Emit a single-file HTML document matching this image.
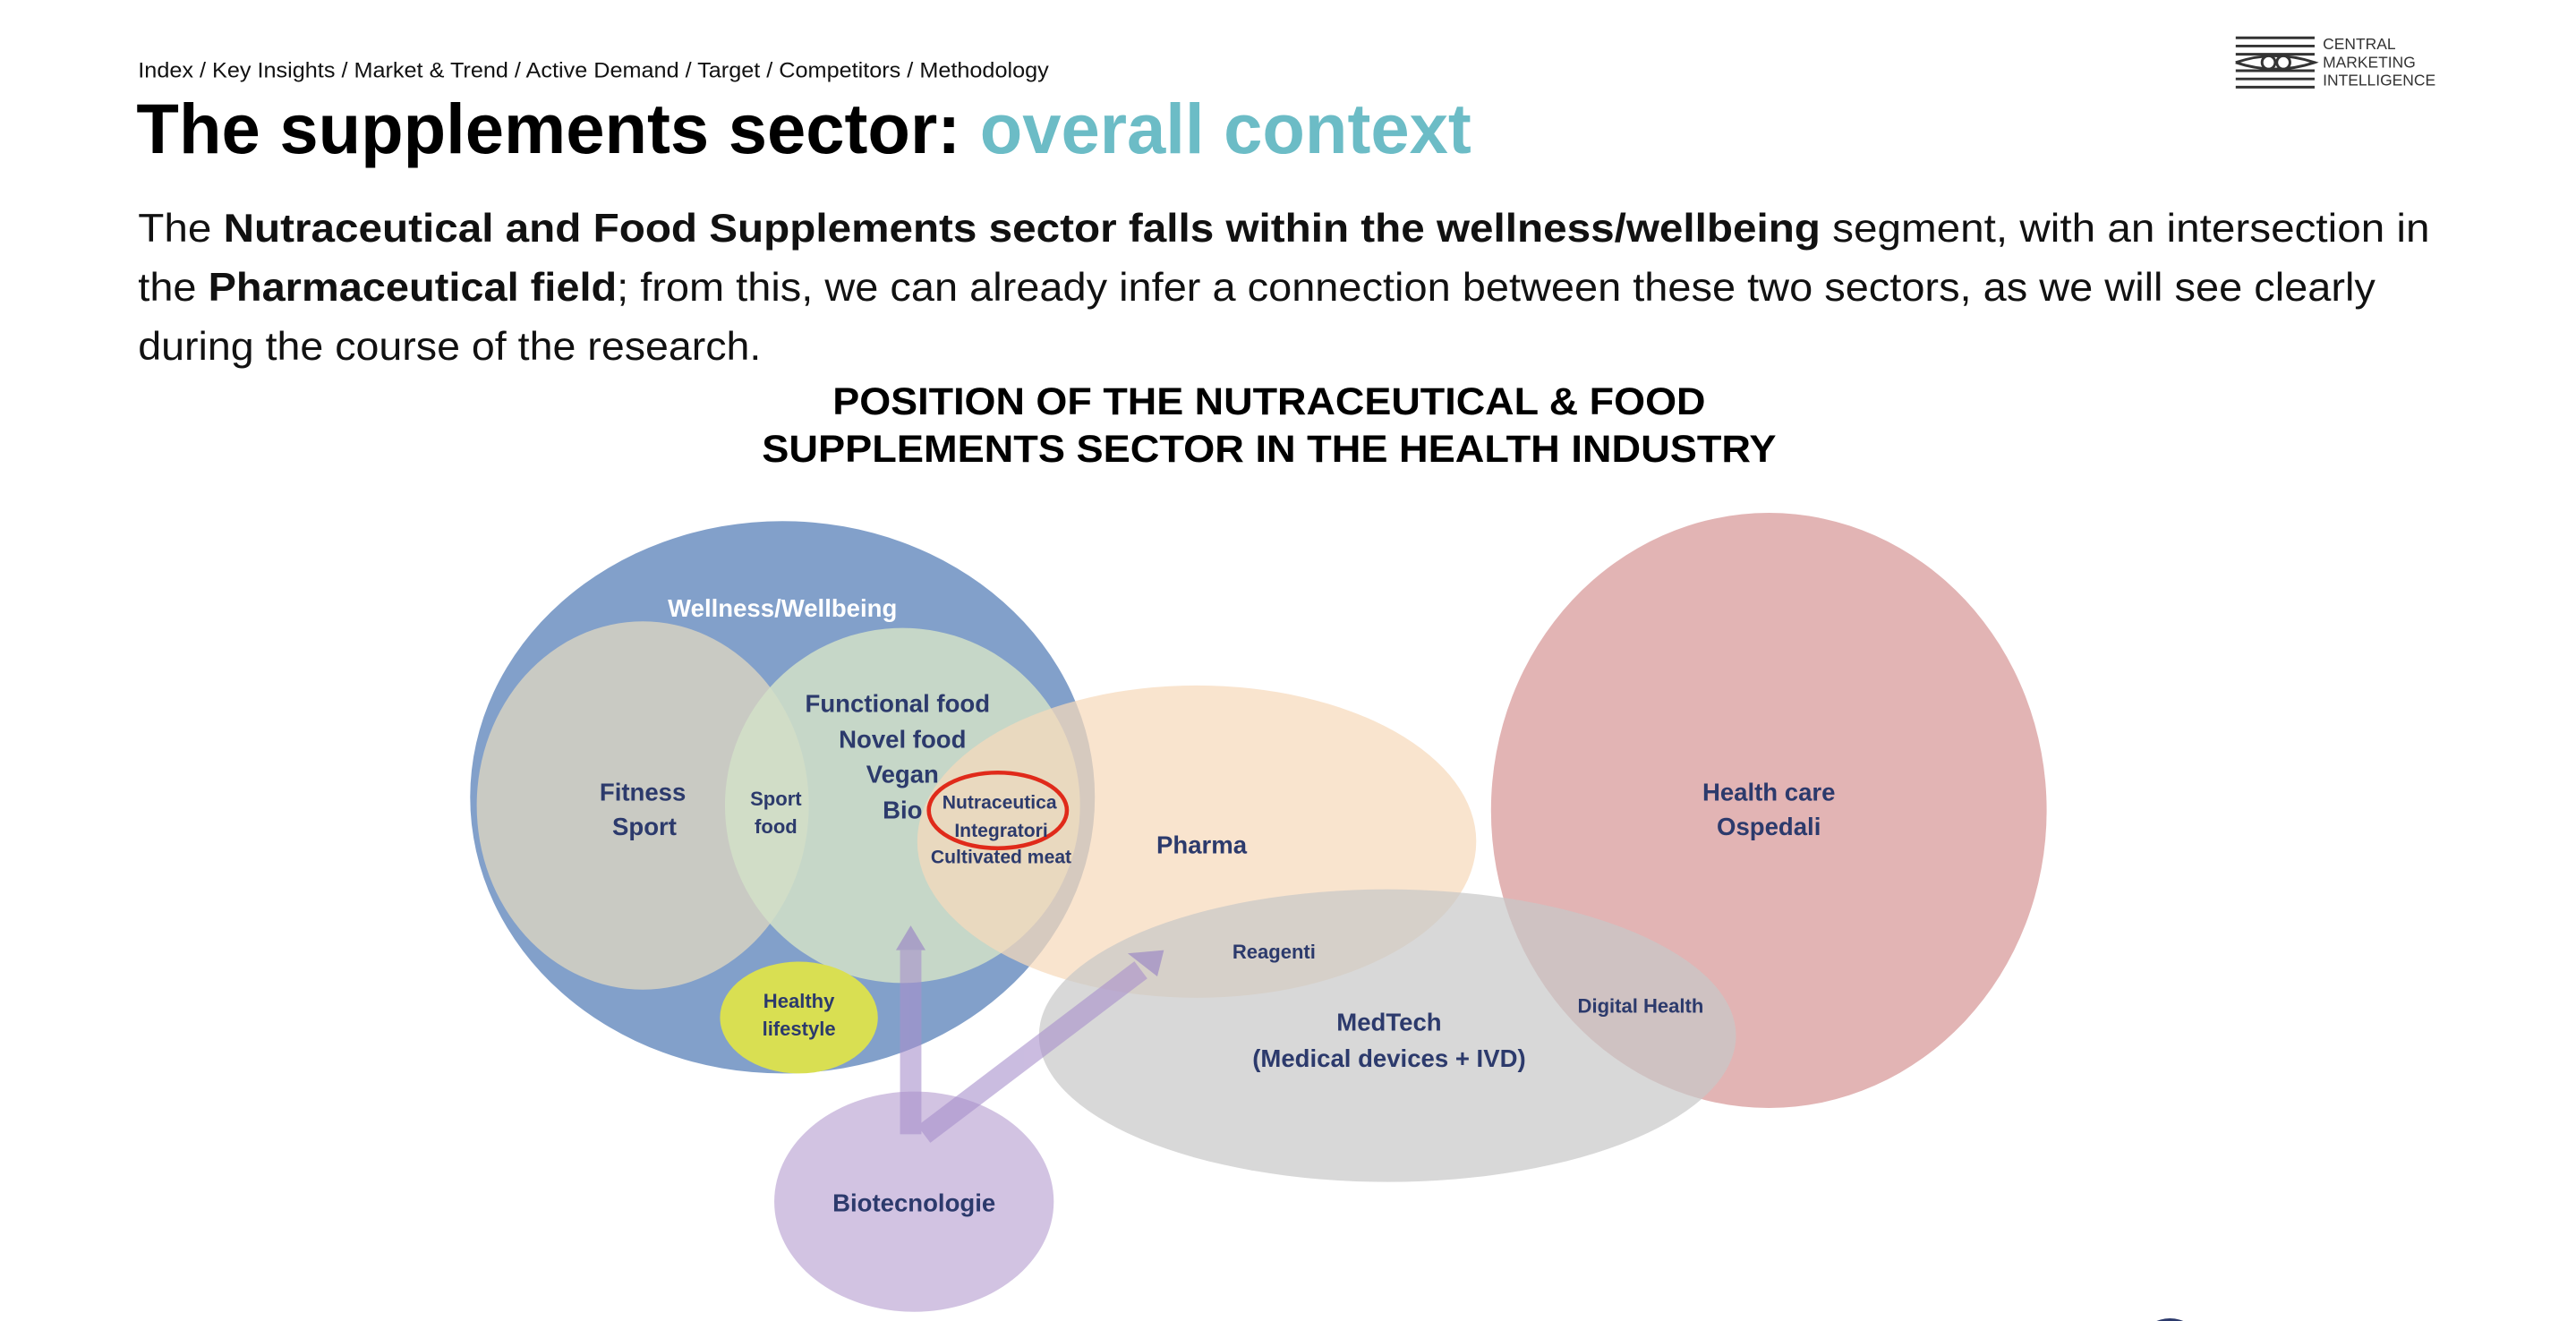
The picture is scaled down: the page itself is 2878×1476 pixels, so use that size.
<!DOCTYPE html>
<html><head><meta charset="utf-8"><style>html,body{margin:0;padding:0;background:#fff}svg{display:block}</style></head>
<body>
<svg width="2878" height="1476" viewBox="0 0 1567 803.6" preserveAspectRatio="none" xmlns="http://www.w3.org/2000/svg" font-family="Liberation Sans, sans-serif">
<rect width="1600" height="820" fill="#fff"/>
<text x="84" y="47" font-size="13" fill="#111" textLength="554" lengthAdjust="spacingAndGlyphs">Index / Key Insights /  Market &amp; Trend / Active Demand / Target / Competitors / Methodology</text>
<!-- logo -->
<g stroke="#333" stroke-width="1.6">
<line x1="1360" y1="23" x2="1408" y2="23"/><line x1="1360" y1="28" x2="1408" y2="28"/><line x1="1360" y1="33" x2="1408" y2="33"/>
<line x1="1360" y1="43" x2="1408" y2="43"/><line x1="1360" y1="48" x2="1408" y2="48"/><line x1="1360" y1="53" x2="1408" y2="53"/>
<path d="M1360 38 Q1384 30 1408 38 Q1384 46 1360 38" fill="none"/>
<circle cx="1380" cy="38" r="4" fill="#fff"/><circle cx="1389" cy="38" r="4" fill="#fff"/>
</g>
<g font-size="9.5" fill="#333"><text x="1413" y="30">CENTRAL</text><text x="1413" y="41">MARKETING</text><text x="1413" y="52">INTELLIGENCE</text></g>
<text x="83" y="93" font-size="43" font-weight="bold" textLength="812" lengthAdjust="spacingAndGlyphs"><tspan fill="#000">The supplements sector: </tspan><tspan fill="#6cbcc6">overall context</tspan></text>
<g font-size="24" fill="#111">
<text x="84" y="147" textLength="1394" lengthAdjust="spacingAndGlyphs">The <tspan font-weight="bold">Nutraceutical and Food Supplements sector falls within the wellness/wellbeing</tspan> segment, with an intersection in</text>
<text x="84" y="183" textLength="1361" lengthAdjust="spacingAndGlyphs">the <tspan font-weight="bold">Pharmaceutical field</tspan>; from this, we can already infer a connection between these two sectors, as we will see clearly</text>
<text x="84" y="219" textLength="379" lengthAdjust="spacingAndGlyphs">during the course of the research.</text>
</g>
<g font-size="23" font-weight="bold" text-anchor="middle">
<text x="772" y="252" textLength="531" lengthAdjust="spacingAndGlyphs">POSITION OF THE NUTRACEUTICAL &amp; FOOD</text>
<text x="772" y="281" textLength="617" lengthAdjust="spacingAndGlyphs">SUPPLEMENTS SECTOR IN THE HEALTH INDUSTRY</text>
</g>
<!-- diagram -->
<ellipse cx="1076" cy="493" rx="169" ry="181" fill="#e2b4b4"/>
<ellipse cx="476" cy="485" rx="190" ry="168" fill="#82a0ca"/>
<ellipse cx="391" cy="490" rx="101" ry="112" fill="#cfcdc2" opacity="0.92"/>
<ellipse cx="549" cy="490" rx="108" ry="108" fill="#d2e0c8" opacity="0.85"/>
<ellipse cx="486" cy="619" rx="48" ry="34" fill="#d9df52"/>
<ellipse cx="728" cy="512" rx="170" ry="95" fill="#f6d9bb" opacity="0.72"/>
<ellipse cx="844" cy="630" rx="212" ry="89" fill="#c8c8c8" opacity="0.7"/>
<ellipse cx="556" cy="731" rx="85" ry="67" fill="#d2c3e2"/>
<g stroke="#a890cc" stroke-width="13" opacity="0.6" fill="none">
<line x1="554" y1="690" x2="554" y2="578"/>
<line x1="562" y1="690" x2="694" y2="590"/>
</g>
<polygon points="545,578 563,578 554,563" fill="#9d8ac4" opacity="0.7"/>
<polygon points="686,580 704,594 708,578" fill="#9d8ac4" opacity="0.7"/>
<ellipse cx="607" cy="493" rx="42" ry="23" fill="none" stroke="#e02a1a" stroke-width="2.5"/>
<g fill="#2c3a6c" font-weight="bold" text-anchor="middle" font-size="15">
<text x="476" y="375" fill="#fff">Wellness/Wellbeing</text>
<text x="391" y="487">Fitness</text><text x="392" y="508">Sport</text>
<text x="472" y="490" font-size="12">Sport</text><text x="472" y="507" font-size="12">food</text>
<text x="546" y="433">Functional food</text><text x="549" y="455">Novel food</text>
<text x="549" y="476">Vegan</text><text x="549" y="498">Bio</text>
<text x="608" y="492" font-size="11.5">Nutraceutica</text><text x="609" y="509" font-size="11.5">Integratori</text>
<text x="609" y="525" font-size="11.5">Cultivated meat</text>
<text x="731" y="519">Pharma</text>
<text x="1076" y="487">Health care</text><text x="1076" y="508">Ospedali</text>
<text x="775" y="583" font-size="12">Reagenti</text>
<text x="998" y="616" font-size="12">Digital Health</text>
<text x="845" y="627">MedTech</text><text x="845" y="649">(Medical devices + IVD)</text>
<text x="486" y="613" font-size="12">Healthy</text><text x="486" y="630" font-size="12">lifestyle</text>
<text x="556" y="737">Biotecnologie</text>
</g>
<ellipse cx="1320" cy="812" rx="15" ry="10" fill="#2c3a6c"/>
</svg>
</body></html>
